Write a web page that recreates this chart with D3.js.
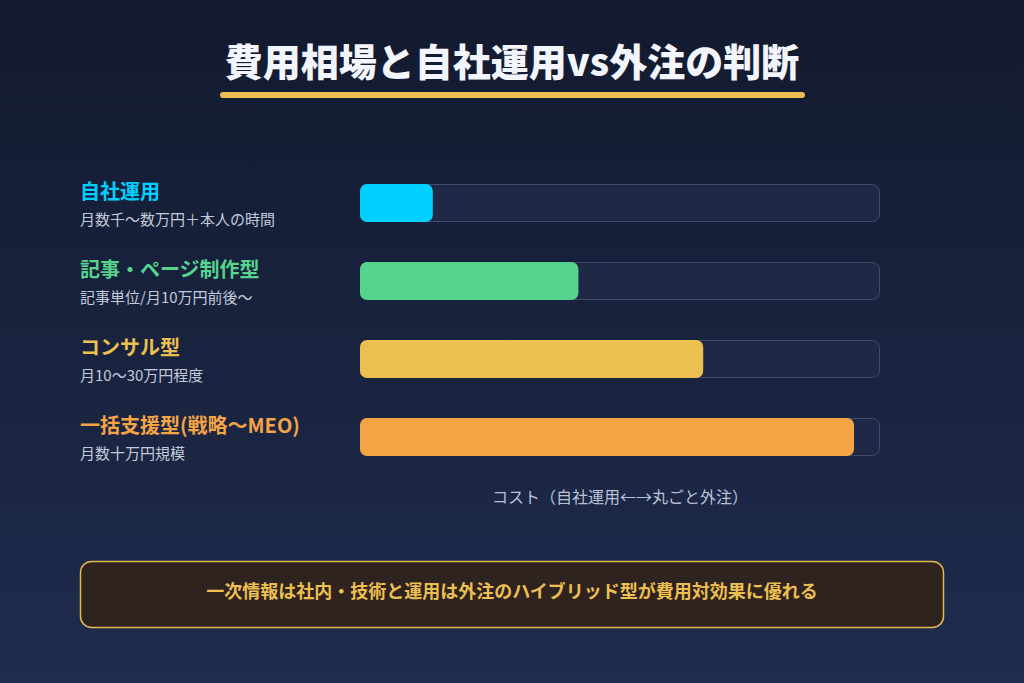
<!DOCTYPE html>
<html lang="ja"><head>
<meta charset="utf-8">
<title>費用相場</title>
<script src="https://cdn.jsdelivr.net/npm/d3@7"></script>
<style>
  body { margin: 0; background: #141b30; }
  text { font-family: "Noto Sans CJK JP", "Noto Sans", sans-serif; }
</style>
</head>
<body>
<script>

var width = 1024;
var height = 683;

// data
var categories = ["自社運用", "記事・ページ制作型", "コンサル型", "一括支援型(戦略〜MEO)"];
var notes = ["月数千〜数万円＋本人の時間", "記事単位/月10万円前後〜", "月10〜30万円程度", "月数十万円規模"];
var costLevel = [14, 42, 66, 95];
var colors = ["#00cfff", "#55d48e", "#ebc04e", "#f4a444"];
var axisLabel = "コスト（自社運用←→丸ごと外注）";
var chartTitle = "費用相場と自社運用vs外注の判断";
var summary = "一次情報は社内・技術と運用は外注のハイブリッド型が費用対効果に優れる";

var svg = d3.select("body").append("svg")
    .attr("width", width)
    .attr("height", height);

var grad = svg.append("defs").append("linearGradient")
    .attr("id", "bg")
    .attr("x1", 0).attr("y1", 0).attr("x2", 0).attr("y2", 1);
grad.append("stop").attr("offset", "0%").attr("stop-color", "#131a2f");
grad.append("stop").attr("offset", "100%").attr("stop-color", "#1f2c4e");

svg.append("rect")
    .attr("width", width)
    .attr("height", height)
    .attr("fill", "url(#bg)");

// title
svg.append("text")
    .attr("x", width / 2)
    .attr("y", 76)
    .attr("text-anchor", "middle")
    .attr("fill", "#f2f5fb")
    .attr("font-size", 38)
    .attr("font-weight", 900)
    .text(chartTitle);

svg.append("line")
    .attr("x1", 223).attr("x2", 802)
    .attr("y1", 95).attr("y2", 95)
    .attr("stroke", "#e9bd4f")
    .attr("stroke-width", 6)
    .attr("stroke-linecap", "round");

var x = d3.scaleLinear().domain([0, 100]).range([360, 880]);
var y = d3.scaleBand()
    .domain(categories)
    .range([184, 456])
    .paddingInner(40 / 78)
    .paddingOuter(0);

var rows = svg.selectAll("g.row")
    .data(categories)
    .enter()
    .append("g")
    .attr("class", "row");

rows.append("rect")
    .attr("x", x(0) + 0.5)
    .attr("y", (d) => y(d) + 0.5)
    .attr("width", x(100) - x(0) - 1)
    .attr("height", y.bandwidth() - 1)
    .attr("rx", 7)
    .attr("fill", "#1f2946")
    .attr("stroke", "#3e4b6c")
    .attr("stroke-width", 1);

rows.append("rect")
    .attr("x", x(0))
    .attr("y", (d) => y(d))
    .attr("width", (d, i) => x(costLevel[i]) - x(0))
    .attr("height", y.bandwidth())
    .attr("rx", 7)
    .attr("fill", (d, i) => colors[i]);

rows.append("text")
    .attr("x", 80)
    .attr("y", (d) => y(d) + 15)
    .attr("fill", (d, i) => colors[i])
    .attr("font-size", 20)
    .attr("font-weight", 700)
    .text((d) => d);

rows.append("text")
    .attr("x", 80)
    .attr("y", (d) => y(d) + 41)
    .attr("fill", "#c3cadb")
    .attr("font-size", 15)
    .text((d, i) => notes[i]);

svg.append("text")
    .attr("x", (x(0) + x(100)) / 2)
    .attr("y", 503)
    .attr("text-anchor", "middle")
    .attr("fill", "#b9c1d5")
    .attr("font-size", 16)
    .text(axisLabel);

// summary box
svg.append("rect")
    .attr("x", 80.5)
    .attr("y", 561.5)
    .attr("width", 863)
    .attr("height", 66)
    .attr("rx", 11)
    .attr("fill", "#2e231f")
    .attr("stroke", "#e6b94e")
    .attr("stroke-width", 1.5);

svg.append("text")
    .attr("x", width / 2)
    .attr("y", 598)
    .attr("text-anchor", "middle")
    .attr("fill", "#ebbf52")
    .attr("font-size", 18)
    .attr("font-weight", 700)
    .text(summary);

</script>
</body></html>
